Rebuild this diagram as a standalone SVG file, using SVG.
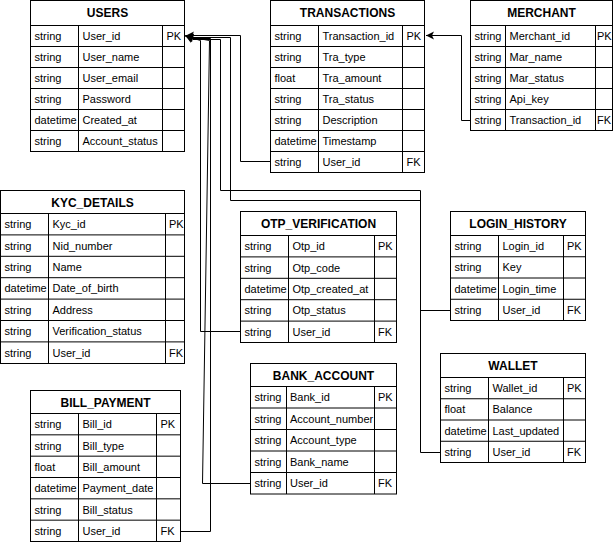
<svg xmlns="http://www.w3.org/2000/svg" width="613" height="544" viewBox="0 0 613 544">
<style>
.box{fill:#fff;stroke:#000;stroke-width:1}
.grid{fill:none;stroke:#000;stroke-width:1}
.h{font-family:"Liberation Sans",Arial,Helvetica,sans-serif;font-size:12px;font-weight:bold;text-anchor:middle;fill:#000}
.c{font-family:"Liberation Sans",Arial,Helvetica,sans-serif;font-size:11px;fill:#000}
.e{fill:none;stroke:#000;stroke-width:1}
</style>
<defs>
<marker id="arr" markerUnits="userSpaceOnUse" markerWidth="10" markerHeight="10" refX="8" refY="4" orient="auto" viewBox="0 0 10 8">
<path d="M0,0 L8,4 L0,8 L2,4 Z" fill="#000"/>
</marker>
</defs>
<rect width="613" height="544" fill="#fff"/>

<g id="connectors">
<path class="e" d="M270.5,161.5 H240.5 V35.5 H186" marker-end="url(#arr)"/>
<path class="e" d="M470.5,120.5 H461.5 V35.5 H426" marker-end="url(#arr)"/>
<path class="e" d="M450.5,310.5 H420.5 V190.5 H220.5 V39.5 H193 L185.5,35.8" marker-end="url(#arr)"/>
<path class="e" d="M440.5,452.5 H420.5 V200.5 H230.5 V37.5 H193 L185.5,35.6" marker-end="url(#arr)"/>
<path class="e" d="M240.5,331.5 H200.5 V40.5 L185.5,36" marker-end="url(#arr)"/>
<path class="e" d="M250.5,483.5 H202.5 L209.5,40.5 L185.5,36.2" marker-end="url(#arr)"/>
<path class="e" d="M180.5,531.5 H210.5 V38.5 H193 L185.5,35.7" marker-end="url(#arr)"/>
</g>

<g id="users">
<rect class="box" x="30.5" y="0.5" width="154" height="151"/>
<path class="grid" d="M30.5,25.5H184.5M30.5,46.5H184.5M30.5,67.5H184.5M30.5,88.5H184.5M30.5,109.5H184.5M30.5,130.5H184.5M78.5,25.5V151.5M162.5,25.5V151.5"/>
<text class="h" x="107.5" y="17">USERS</text>
<text class="c" x="34.5" y="40">string</text><text class="c" x="82.5" y="40">User_id</text><text class="c" x="166.5" y="40">PK</text>
<text class="c" x="34.5" y="61">string</text><text class="c" x="82.5" y="61">User_name</text>
<text class="c" x="34.5" y="82">string</text><text class="c" x="82.5" y="82">User_email</text>
<text class="c" x="34.5" y="103">string</text><text class="c" x="82.5" y="103">Password</text>
<text class="c" x="34.5" y="124">datetime</text><text class="c" x="82.5" y="124">Created_at</text>
<text class="c" x="34.5" y="145">string</text><text class="c" x="82.5" y="145">Account_status</text>
</g>

<g id="transactions">
<rect class="box" x="270.5" y="0.5" width="154" height="172"/>
<path class="grid" d="M270.5,25.5H424.5M270.5,46.5H424.5M270.5,67.5H424.5M270.5,88.5H424.5M270.5,109.5H424.5M270.5,130.5H424.5M270.5,151.5H424.5M318.5,25.5V172.5M402.5,25.5V172.5"/>
<text class="h" x="347.5" y="17">TRANSACTIONS</text>
<text class="c" x="274.5" y="40">string</text><text class="c" x="322.5" y="40">Transaction_id</text><text class="c" x="406.5" y="40">PK</text>
<text class="c" x="274.5" y="61">string</text><text class="c" x="322.5" y="61">Tra_type</text>
<text class="c" x="274.5" y="82">float</text><text class="c" x="322.5" y="82">Tra_amount</text>
<text class="c" x="274.5" y="103">string</text><text class="c" x="322.5" y="103">Tra_status</text>
<text class="c" x="274.5" y="124">string</text><text class="c" x="322.5" y="124">Description</text>
<text class="c" x="274.5" y="145">datetime</text><text class="c" x="322.5" y="145">Timestamp</text>
<text class="c" x="274.5" y="166">string</text><text class="c" x="322.5" y="166">User_id</text><text class="c" x="406.5" y="166">FK</text>
</g>

<g id="merchant">
<rect class="box" x="470.5" y="0.5" width="142" height="130"/>
<path class="grid" d="M470.5,25.5H612.5M470.5,46.5H612.5M470.5,67.5H612.5M470.5,88.5H612.5M470.5,109.5H612.5M505.5,25.5V130.5M595.5,25.5V130.5"/>
<text class="h" x="541.5" y="17">MERCHANT</text>
<text class="c" x="474.5" y="40">string</text><text class="c" x="509.5" y="40">Merchant_id</text><text class="c" x="597" y="40">PK</text>
<text class="c" x="474.5" y="61">string</text><text class="c" x="509.5" y="61">Mar_name</text>
<text class="c" x="474.5" y="82">string</text><text class="c" x="509.5" y="82">Mar_status</text>
<text class="c" x="474.5" y="103">string</text><text class="c" x="509.5" y="103">Api_key</text>
<text class="c" x="474.5" y="124">string</text><text class="c" x="509.5" y="124">Transaction_id</text><text class="c" x="597" y="124">FK</text>
</g>

<g id="kyc_details">
<rect class="box" x="0.5" y="190.5" width="184" height="173"/>
<path class="grid" d="M0.5,213.5H184.5M0.5,234.9H184.5M0.5,256.3H184.5M0.5,277.7H184.5M0.5,299.1H184.5M0.5,320.5H184.5M0.5,341.9H184.5M48.5,213.5V363.5M165.5,213.5V363.5"/>
<text class="h" x="92.5" y="206.5">KYC_DETAILS</text>
<text class="c" x="4.5" y="228.2">string</text><text class="c" x="52.5" y="228.2">Kyc_id</text><text class="c" x="169" y="228.2">PK</text>
<text class="c" x="4.5" y="249.6">string</text><text class="c" x="52.5" y="249.6">Nid_number</text>
<text class="c" x="4.5" y="271">string</text><text class="c" x="52.5" y="271">Name</text>
<text class="c" x="4.5" y="292.4">datetime</text><text class="c" x="52.5" y="292.4">Date_of_birth</text>
<text class="c" x="4.5" y="313.8">string</text><text class="c" x="52.5" y="313.8">Address</text>
<text class="c" x="4.5" y="335.2">string</text><text class="c" x="52.5" y="335.2">Verification_status</text>
<text class="c" x="4.5" y="356.6">string</text><text class="c" x="52.5" y="356.6">User_id</text><text class="c" x="169" y="356.6">FK</text>
</g>

<g id="otp_verification">
<rect class="box" x="240.5" y="211.5" width="156" height="131"/>
<path class="grid" d="M240.5,235.5H396.5M240.5,256.9H396.5M240.5,278.3H396.5M240.5,299.7H396.5M240.5,321.1H396.5M288.5,235.5V342.5M374.5,235.5V342.5"/>
<text class="h" x="318.5" y="228">OTP_VERIFICATION</text>
<text class="c" x="244.5" y="250.2">string</text><text class="c" x="292.5" y="250.2">Otp_id</text><text class="c" x="378" y="250.2">PK</text>
<text class="c" x="244.5" y="271.6">string</text><text class="c" x="292.5" y="271.6">Otp_code</text>
<text class="c" x="244.5" y="293">datetime</text><text class="c" x="292.5" y="293">Otp_created_at</text>
<text class="c" x="244.5" y="314.4">string</text><text class="c" x="292.5" y="314.4">Otp_status</text>
<text class="c" x="244.5" y="335.8">string</text><text class="c" x="292.5" y="335.8">User_id</text><text class="c" x="378" y="335.8">FK</text>
</g>

<g id="login_history">
<rect class="box" x="450.5" y="211.5" width="135" height="109"/>
<path class="grid" d="M450.5,235.5H585.5M450.5,256.75H585.5M450.5,278H585.5M450.5,299.25H585.5M498.5,235.5V320.5M563.5,235.5V320.5"/>
<text class="h" x="518" y="228">LOGIN_HISTORY</text>
<text class="c" x="454.5" y="250.1">string</text><text class="c" x="502.5" y="250.1">Login_id</text><text class="c" x="567" y="250.1">PK</text>
<text class="c" x="454.5" y="271.4">string</text><text class="c" x="502.5" y="271.4">Key</text>
<text class="c" x="454.5" y="292.6">datetime</text><text class="c" x="502.5" y="292.6">Login_time</text>
<text class="c" x="454.5" y="313.9">string</text><text class="c" x="502.5" y="313.9">User_id</text><text class="c" x="567" y="313.9">FK</text>
</g>

<g id="wallet">
<rect class="box" x="440.5" y="353.5" width="145" height="109"/>
<path class="grid" d="M440.5,377.5H585.5M440.5,398.75H585.5M440.5,420H585.5M440.5,441.25H585.5M488.5,377.5V462.5M563.5,377.5V462.5"/>
<text class="h" x="513" y="370">WALLET</text>
<text class="c" x="444.5" y="392.1">string</text><text class="c" x="492.5" y="392.1">Wallet_id</text><text class="c" x="567" y="392.1">PK</text>
<text class="c" x="444.5" y="413.4">float</text><text class="c" x="492.5" y="413.4">Balance</text>
<text class="c" x="444.5" y="434.6">datetime</text><text class="c" x="492.5" y="434.6">Last_updated</text>
<text class="c" x="444.5" y="455.9">string</text><text class="c" x="492.5" y="455.9">User_id</text><text class="c" x="567" y="455.9">FK</text>
</g>

<g id="bank_account">
<rect class="box" x="250.5" y="363.5" width="146" height="130.5"/>
<path class="grid" d="M250.5,386.5H396.5M250.5,408H396.5M250.5,429.5H396.5M250.5,451H396.5M250.5,472.5H396.5M286.5,386.5V494M374.5,386.5V494"/>
<text class="h" x="323.5" y="379.5">BANK_ACCOUNT</text>
<text class="c" x="254.5" y="401.2">string</text><text class="c" x="290" y="401.2">Bank_id</text><text class="c" x="378" y="401.2">PK</text>
<text class="c" x="254.5" y="422.7">string</text><text class="c" x="290" y="422.7">Account_number</text>
<text class="c" x="254.5" y="444.2">string</text><text class="c" x="290" y="444.2">Account_type</text>
<text class="c" x="254.5" y="465.7">string</text><text class="c" x="290" y="465.7">Bank_name</text>
<text class="c" x="254.5" y="487.2">string</text><text class="c" x="290" y="487.2">User_id</text><text class="c" x="378" y="487.2">FK</text>
</g>

<g id="bill_payment">
<rect class="box" x="30.5" y="390.5" width="150" height="151"/>
<path class="grid" d="M30.5,413.5H180.5M30.5,434.83H180.5M30.5,456.17H180.5M30.5,477.5H180.5M30.5,498.83H180.5M30.5,520.17H180.5M78.5,413.5V541.5M156.5,413.5V541.5"/>
<text class="h" x="105.5" y="406.5">BILL_PAYMENT</text>
<text class="c" x="34.5" y="428.2">string</text><text class="c" x="82.5" y="428.2">Bill_id</text><text class="c" x="160.5" y="428.2">PK</text>
<text class="c" x="34.5" y="449.5">string</text><text class="c" x="82.5" y="449.5">Bill_type</text>
<text class="c" x="34.5" y="470.8">float</text><text class="c" x="82.5" y="470.8">Bill_amount</text>
<text class="c" x="34.5" y="492.2">datetime</text><text class="c" x="82.5" y="492.2">Payment_date</text>
<text class="c" x="34.5" y="513.5">string</text><text class="c" x="82.5" y="513.5">Bill_status</text>
<text class="c" x="34.5" y="534.8">string</text><text class="c" x="82.5" y="534.8">User_id</text><text class="c" x="160.5" y="534.8">FK</text>
</g>
</svg>
